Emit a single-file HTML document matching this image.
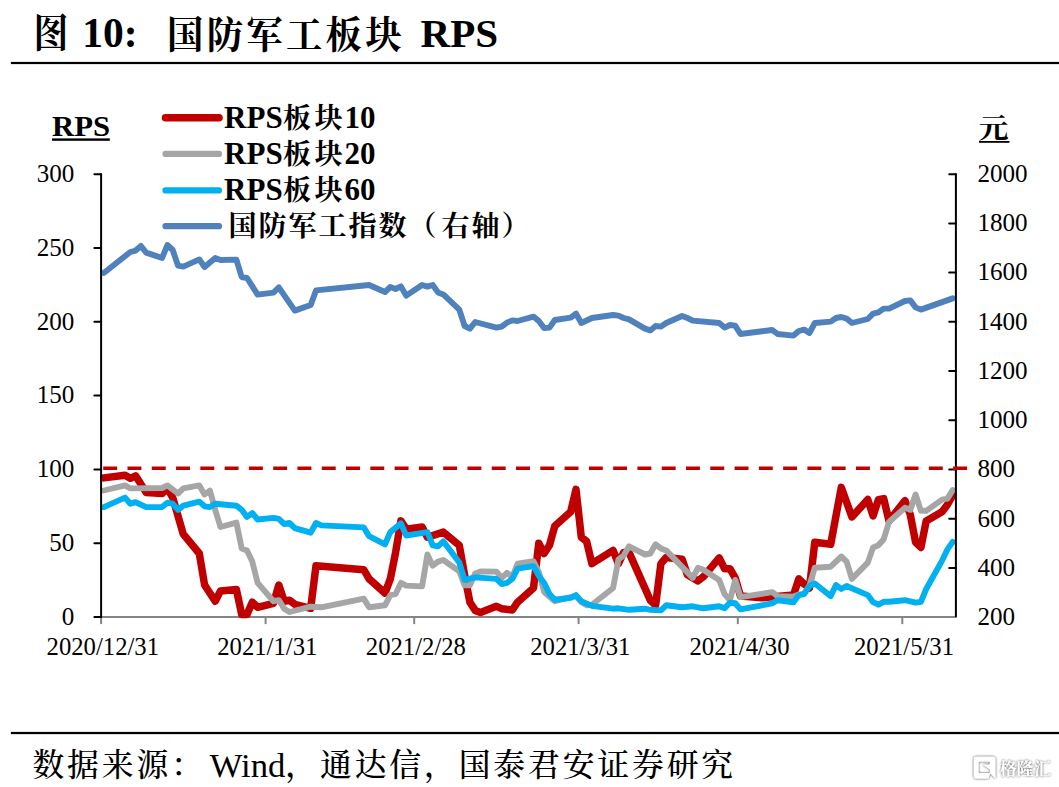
<!DOCTYPE html>
<html lang="zh"><head><meta charset="utf-8"><title>图 10: 国防军工板块 RPS</title>
<style>html,body{margin:0;padding:0;background:#fff}body{width:1059px;height:787px;overflow:hidden}svg{display:block}
text{font-family:"Liberation Serif","Noto Serif CJK SC",serif;fill:#000}
.b{font-weight:700}.fc{font-size:31.8px;font-weight:500;letter-spacing:2.87px}.xl{font-size:24.7px}.ax{font-size:25.1px}.lg{font-size:31px;font-weight:700}.cj{font-size:28px;font-weight:700;letter-spacing:2px}
</style></head><body>
<svg width="1059" height="787" viewBox="0 0 1059 787">
<rect width="1059" height="787" fill="#fff"/>
<g class="b" font-size="41.5">
<text x="33.4" y="47.8" font-size="36" font-weight="700" transform="translate(1.12,-6.82) scale(0.967,1.1167)">图</text>
<text x="82.3" y="47">10:</text>
<text x="167" y="47.8" font-size="36.4" font-weight="700" letter-spacing="3.25" transform="translate(0,-2.2) scale(1,1.045)">国防军工板块</text>
<text x="420.6" y="47" font-size="41">RPS</text>
</g>
<rect x="10.9" y="61.9" width="1048.1" height="2.2" fill="#000"/>
<rect x="10.9" y="731.9" width="1048.1" height="2.25" fill="#000"/>
<text x="32.4" y="775.6" font-size="34.67"><tspan class="fc">数据来源：</tspan><tspan dx="4" dy="0.9">Wind</tspan><tspan class="fc" dy="-0.9">，通达信，国泰君安证券研究</tspan></text>
<defs><filter id="ws" x="-20%" y="-20%" width="140%" height="140%"><feGaussianBlur in="SourceAlpha" stdDeviation="0.8" result="b"/><feOffset in="b" dx="0.45" dy="0.45" result="o0"/><feComponentTransfer in="o0" result="o"><feFuncA type="linear" slope="1.9"/></feComponentTransfer><feFlood flood-color="#7d7d7d" flood-opacity="0.8"/><feComposite in2="o" operator="in" result="sh"/><feMerge><feMergeNode in="sh"/><feMergeNode in="SourceGraphic"/></feMerge></filter></defs>
<g filter="url(#ws)"><text x="999.4" y="774.6" font-family='"Liberation Sans","Noto Sans CJK SC",sans-serif' font-size="17.2" font-weight="700" style="fill:#fff">格隆汇</text>
<path fill-rule="evenodd" fill="#fff" d="M976.2 756.5H993A2.6 2.6 0 0 1 995.6 759.1V778.7L990.2 773.6L988.4 778.7H976.2A2.6 2.6 0 0 1 973.6 776.1V759.1A2.6 2.6 0 0 1 976.2 756.5ZM978.7 761.7H989.8V764.4H982.4L989.8 769.6V772.9H978.7Z"/></g>
<text x="52" y="135.6" font-size="30.3" class="b" textLength="58" lengthAdjust="spacingAndGlyphs">RPS</text>
<rect x="52" y="138.4" width="57.8" height="2.4" fill="#000"/>
<text x="978.6" y="138.3" font-size="30" font-weight="700" transform="translate(0,13.3) scale(1,0.905)">元</text>
<rect x="979" y="141" width="30.4" height="1.8" fill="#000"/>
<g class="ax" text-anchor="end">
<text x="74.4" y="624.9">0</text>
<text x="74.4" y="551.1">50</text>
<text x="74.4" y="477.3">100</text>
<text x="74.4" y="403.4">150</text>
<text x="74.4" y="329.6">200</text>
<text x="74.4" y="255.8">250</text>
<text x="74.4" y="182.0">300</text>
</g>
<g class="ax">
<text x="977.4" y="624.9">200</text>
<text x="977.4" y="575.7">400</text>
<text x="977.4" y="526.5">600</text>
<text x="977.4" y="477.3">800</text>
<text x="977.4" y="428.1">1000</text>
<text x="977.4" y="378.8">1200</text>
<text x="977.4" y="329.6">1400</text>
<text x="977.4" y="280.4">1600</text>
<text x="977.4" y="231.2">1800</text>
<text x="977.4" y="182.0">2000</text>
</g>
<g class="xl" text-anchor="middle">
<text x="102.8" y="654.6">2020/12/31</text>
<text x="267.3" y="654.6">2021/1/31</text>
<text x="415.9" y="654.6">2021/2/28</text>
<text x="580.3" y="654.6">2021/3/31</text>
<text x="739.5" y="654.6">2021/4/30</text>
<text x="904.0" y="654.6">2021/5/31</text>
</g>
<g stroke="#858585" stroke-width="2" fill="none">
<line x1="101.39999999999999" y1="617.1" x2="956.4" y2="617.1"/>
<line x1="101.1" y1="617.1" x2="101.1" y2="624.1"/>
<line x1="265.6" y1="617.1" x2="265.6" y2="624.1"/>
<line x1="414.2" y1="617.1" x2="414.2" y2="624.1"/>
<line x1="578.6" y1="617.1" x2="578.6" y2="624.1"/>
<line x1="737.8" y1="617.1" x2="737.8" y2="624.1"/>
<line x1="902.3" y1="617.1" x2="902.3" y2="624.1"/>
</g>
<g fill="none" stroke-linejoin="round" stroke-linecap="round">
<polyline stroke="#C00000" stroke-width="7.5" points="103.8,477.9 125.0,475.2 130.3,478.3 135.6,475.8 146.2,492.5 162.1,493.5 167.4,488.4 172.7,497.6 183.3,534.2 199.3,553.5 204.6,585.0 215.2,601.2 220.5,591.1 236.4,589.6 241.7,614.4 247.0,614.4 252.3,602.2 257.6,607.3 273.5,603.3 278.8,585.0 284.2,601.2 289.5,600.2 294.8,604.3 310.7,608.3 316.0,565.7 363.7,569.7 369.1,578.9 385.0,593.1 390.3,578.9 395.6,552.4 400.9,520.9 406.2,529.1 422.1,527.0 427.4,537.2 443.3,532.1 459.3,545.3 464.6,574.8 469.9,602.2 475.2,610.4 480.5,612.4 496.4,606.3 501.7,608.7 512.3,610.0 517.6,602.2 533.5,588.0 538.8,543.3 544.1,553.5 549.5,545.3 554.8,526.0 570.7,511.8 576.0,489.4 581.3,537.2 586.6,541.3 591.9,563.6 613.1,550.4 618.4,563.6 623.7,552.4 629.0,552.4 650.3,600.2 655.6,605.3 660.9,563.6 666.2,557.5 682.1,559.2 687.4,574.8 698.0,580.9 703.3,576.8 719.2,557.9 724.6,568.7 729.9,568.7 735.2,577.9 740.5,596.1 761.7,597.8 793.5,595.1 798.8,578.9 804.1,584.0 809.4,588.0 814.8,542.3 830.7,544.3 841.3,487.4 851.9,516.9 867.8,499.6 873.1,515.9 878.4,499.6 883.7,498.6 889.0,520.9 905.0,500.6 910.3,514.8 915.6,542.3 920.9,547.4 926.2,520.9 942.1,511.8 947.4,504.7 952.7,495.5"/>
<polyline stroke="#A6A6A6" stroke-width="5.9" points="103.8,490.5 125.0,485.4 130.3,488.4 162.1,488.0 167.4,485.4 178.0,493.5 183.3,488.4 199.3,485.4 204.6,494.5 209.9,490.5 215.2,509.8 220.5,527.0 236.4,522.6 241.7,548.4 247.0,550.4 252.3,561.6 257.6,582.9 273.5,601.2 278.8,600.2 284.2,608.7 289.5,612.0 310.7,606.7 321.3,607.3 363.7,598.6 369.1,607.3 385.0,605.3 390.3,595.1 395.6,594.1 400.9,582.9 406.2,585.6 422.1,586.4 427.4,554.5 432.7,565.7 438.0,561.6 443.3,560.0 459.3,571.3 464.6,585.4 469.9,585.2 475.2,573.4 480.5,571.4 496.4,571.6 501.7,577.9 507.0,572.8 512.3,577.0 517.6,563.6 533.5,561.2 538.8,571.8 544.1,592.1 554.8,601.2 570.7,597.2 576.0,596.0 581.3,602.2 586.6,605.3 591.9,604.8 613.1,588.0 618.4,559.6 623.7,555.5 629.0,546.3 645.0,554.5 650.3,553.5 655.6,544.3 660.9,548.4 666.2,550.4 692.7,577.9 698.0,567.7 703.3,569.7 719.2,579.9 724.6,594.1 729.9,600.2 735.2,579.9 740.5,597.2 772.3,592.1 777.6,596.1 793.5,596.6 798.8,594.6 804.1,593.6 809.4,585.6 814.8,567.7 830.7,566.7 841.3,556.5 846.6,561.6 851.9,578.9 867.8,562.6 873.1,547.4 878.4,545.3 883.7,539.2 889.0,522.0 905.0,507.7 910.3,509.8 915.6,494.5 920.9,510.8 926.2,510.8 942.1,499.6 947.4,498.6 952.7,490.0"/>
<polyline stroke="#00B0F0" stroke-width="5.9" points="103.8,507.1 125.0,497.6 130.3,503.7 135.6,502.2 146.2,507.1 162.1,507.1 167.4,502.7 172.7,503.7 178.0,509.8 183.3,505.7 199.3,501.6 204.6,506.3 209.9,507.1 215.2,503.7 236.4,505.7 241.7,509.8 247.0,516.9 252.3,513.2 257.6,519.5 273.5,517.9 278.8,518.9 284.2,524.0 289.5,523.0 294.8,528.1 310.7,532.7 316.0,523.0 321.3,525.4 363.7,527.4 369.1,536.2 385.0,544.3 390.3,532.1 400.9,523.4 406.2,535.6 427.4,532.1 432.7,545.3 438.0,546.3 443.3,541.3 459.3,562.6 464.6,579.9 475.2,577.4 496.4,578.9 501.7,584.0 507.0,582.9 512.3,578.9 517.6,568.7 533.5,566.1 538.8,575.8 544.1,582.9 549.5,594.1 554.8,599.8 570.7,597.8 576.0,595.1 581.3,601.2 591.9,605.9 613.1,608.7 618.4,608.3 629.0,609.8 645.0,608.7 650.3,609.8 660.9,610.4 666.2,605.3 682.1,607.3 692.7,606.3 703.3,608.3 719.2,606.3 724.6,608.3 729.9,602.7 735.2,603.3 740.5,609.4 772.3,603.3 777.6,600.2 793.5,602.2 798.8,595.1 804.1,594.1 809.4,586.0 814.8,583.5 830.7,596.1 836.0,585.0 841.3,589.0 846.6,586.0 867.8,595.1 873.1,602.2 878.4,604.7 883.7,601.8 889.0,601.8 905.0,600.2 915.6,602.7 920.9,601.8 926.2,589.0 942.1,560.6 947.4,549.4 952.7,541.9"/>
<polyline stroke="#4F81BD" stroke-width="5.9" points="103.8,273.0 130.3,252.0 135.6,250.6 140.9,246.0 146.2,252.6 162.1,258.0 167.4,245.0 172.7,250.0 178.0,265.6 183.3,266.6 199.3,259.4 204.6,267.0 215.2,258.0 220.5,260.0 236.4,259.6 241.7,277.0 247.0,278.0 257.6,294.6 273.5,292.6 278.8,287.4 294.8,310.6 310.7,305.0 316.0,290.4 369.1,285.0 385.0,292.0 390.3,287.0 395.6,289.0 400.9,286.4 406.2,295.6 422.1,285.0 427.4,286.6 432.7,285.0 438.0,292.4 443.3,294.4 459.3,309.6 464.6,326.0 469.9,328.6 475.2,322.0 496.4,327.6 501.7,326.6 507.0,322.6 512.3,320.4 517.6,321.0 533.5,316.6 538.8,321.0 544.1,328.0 549.5,327.6 554.8,320.0 570.7,317.6 576.0,313.6 581.3,323.0 591.9,318.0 613.1,315.0 618.4,315.6 623.7,318.0 629.0,319.4 645.0,328.6 650.3,330.4 655.6,326.0 660.9,326.6 666.2,323.0 682.1,316.0 687.4,318.0 692.7,320.6 719.2,323.0 724.6,327.6 729.9,325.0 735.2,325.6 740.5,334.0 772.3,330.0 777.6,334.0 793.5,335.6 798.8,331.0 804.1,329.6 809.4,333.0 814.8,323.0 830.7,321.6 836.0,318.0 841.3,317.0 846.6,318.6 851.9,323.0 867.8,319.0 873.1,313.6 878.4,312.4 883.7,308.6 889.0,308.6 905.0,301.0 910.3,300.4 915.6,307.4 920.9,309.6 952.7,298.4"/>
</g>
<g stroke="#000" stroke-width="2" fill="none" stroke-linecap="round">
<line x1="101.1" y1="174.2" x2="101.1" y2="617.1"/>
<line x1="955.9" y1="174.2" x2="955.9" y2="616.5"/>
<line x1="94.39999999999999" y1="617.1" x2="101.1" y2="617.1"/>
<line x1="94.39999999999999" y1="543.3" x2="101.1" y2="543.3"/>
<line x1="94.39999999999999" y1="469.5" x2="101.1" y2="469.5"/>
<line x1="94.39999999999999" y1="395.6" x2="101.1" y2="395.6"/>
<line x1="94.39999999999999" y1="321.8" x2="101.1" y2="321.8"/>
<line x1="94.39999999999999" y1="248.0" x2="101.1" y2="248.0"/>
<line x1="94.39999999999999" y1="174.2" x2="101.1" y2="174.2"/>
<line x1="949.1999999999999" y1="567.9" x2="955.9" y2="567.9"/>
<line x1="949.1999999999999" y1="518.7" x2="955.9" y2="518.7"/>
<line x1="949.1999999999999" y1="469.5" x2="955.9" y2="469.5"/>
<line x1="949.1999999999999" y1="420.3" x2="955.9" y2="420.3"/>
<line x1="949.1999999999999" y1="371.0" x2="955.9" y2="371.0"/>
<line x1="949.1999999999999" y1="321.8" x2="955.9" y2="321.8"/>
<line x1="949.1999999999999" y1="272.6" x2="955.9" y2="272.6"/>
<line x1="949.1999999999999" y1="223.4" x2="955.9" y2="223.4"/>
<line x1="949.1999999999999" y1="174.2" x2="955.9" y2="174.2"/>
</g>
<line x1="103.2" y1="468.2" x2="967.2" y2="468.2" stroke="#C00000" stroke-width="3.6" stroke-dasharray="13.95 10.333"/>
<line x1="165.5" y1="117.7" x2="219" y2="117.7" stroke="#C00000" stroke-width="7.6" stroke-linecap="round"/>
<text class="lg" y="127.5"><tspan x="224.1">RPS</tspan><tspan class="cj" x="283">板</tspan><tspan class="cj" x="314.5">块</tspan><tspan x="344.6">10</tspan></text>
<line x1="165.5" y1="153.9" x2="219" y2="153.9" stroke="#A6A6A6" stroke-width="6.2" stroke-linecap="round"/>
<text class="lg" y="163.7"><tspan x="224.1">RPS</tspan><tspan class="cj" x="283">板</tspan><tspan class="cj" x="314.5">块</tspan><tspan x="344.6">20</tspan></text>
<line x1="165.5" y1="190.4" x2="219" y2="190.4" stroke="#00B0F0" stroke-width="6.2" stroke-linecap="round"/>
<text class="lg" y="200.0"><tspan x="224.1">RPS</tspan><tspan class="cj" x="283">板</tspan><tspan class="cj" x="314.5">块</tspan><tspan x="344.6">60</tspan></text>
<line x1="165.5" y1="226.2" x2="219" y2="226.2" stroke="#4F81BD" stroke-width="6.2" stroke-linecap="round"/>
<text class="cj" x="228.5" y="236.2">国防军工指数（<tspan dx="3">右轴）</tspan></text>
</svg></body></html>
